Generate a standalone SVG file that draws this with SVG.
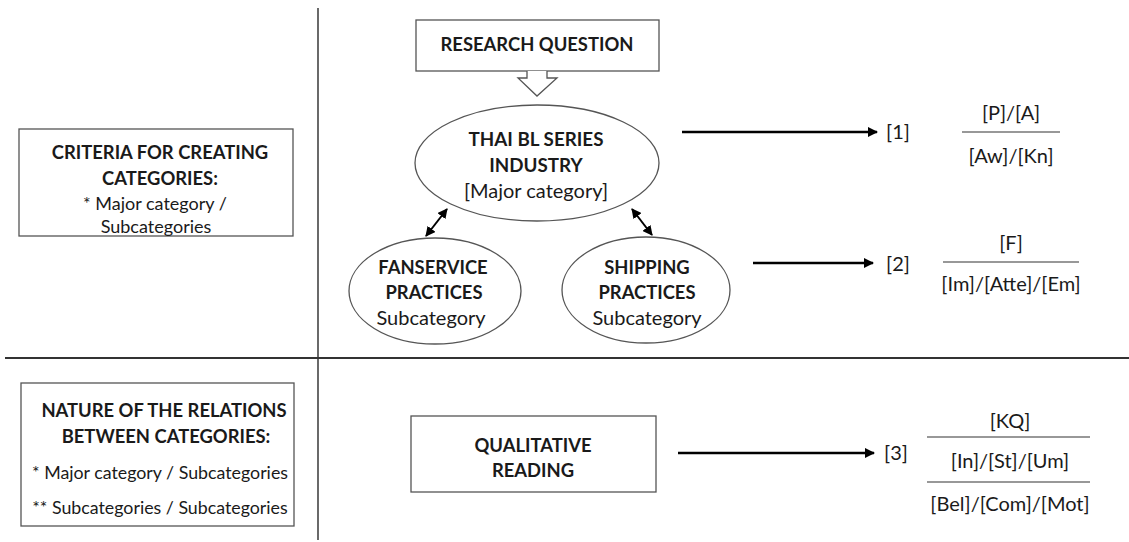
<svg xmlns="http://www.w3.org/2000/svg" width="1129" height="542" viewBox="0 0 1129 542">
<style>
  text { font-family: Lato, "Open Sans", "Liberation Sans", sans-serif; fill: #1a1a1a; text-anchor: middle; dominant-baseline: central; }
  .b { font-weight: bold; font-size: 18.4px; }
  .r { font-size: 20px; }
  .rs { font-size: 17.8px; }
  .box { fill: #fff; stroke: #555; stroke-width: 1.3; }
  .conn { stroke: #000; stroke-width: 2.6; fill: none; }
  .dbl { stroke: #000; stroke-width: 2; fill: none; }
  .frac { stroke: #333; stroke-width: 1.2; }
</style>
<defs>
  <marker id="ah" viewBox="0 0 10 10" refX="9" refY="5" markerWidth="4" markerHeight="4" orient="auto" markerUnits="strokeWidth">
    <path d="M0,0 L10,5 L0,10 z" fill="#000"/>
  </marker>
  <marker id="ah2" viewBox="0 0 10 10" refX="9" refY="5" markerWidth="5" markerHeight="5" orient="auto-start-reverse" markerUnits="strokeWidth">
    <path d="M0,0 L10,5 L0,10 z" fill="#000"/>
  </marker>
</defs>
<rect width="1129" height="542" fill="#fff"/>

<g id="dividers">
  <line x1="318" y1="8" x2="318" y2="540" stroke="#444" stroke-width="1.6"/>
  <line x1="5" y1="358" x2="1129" y2="358" stroke="#333" stroke-width="2"/>
</g>

<g id="criteria">
  <rect class="box" x="19" y="129" width="274" height="107"/>
  <text class="b" x="160" y="152">CRITERIA FOR CREATING</text>
  <text class="b" x="160" y="178">CATEGORIES:</text>
  <text class="rs" x="155" y="203" style="font-size:18px">* Major category /</text>
  <text class="rs" x="156" y="226" style="font-size:18px">Subcategories</text>
</g>

<g id="nature">
  <rect class="box" x="21" y="383" width="273" height="143"/>
  <text class="b" x="164" y="410">NATURE OF THE RELATIONS</text>
  <text class="b" x="166" y="436">BETWEEN CATEGORIES:</text>
  <text class="rs" x="160" y="472">* Major category / Subcategories</text>
  <text class="rs" x="160" y="507">** Subcategories / Subcategories</text>
</g>

<g id="research-question">
  <rect class="box" x="416" y="20" width="243" height="51"/>
  <text class="b" x="537" y="44">RESEARCH QUESTION</text>
  <path d="M527,71 L527,78 L518,78 L537,96 L557,78 L547,78 L547,71" fill="#fff" stroke="#555" stroke-width="1.3"/>
</g>

<g id="thai-bl">
  <ellipse class="box" cx="537" cy="163" rx="122" ry="58"/>
  <text class="b" x="536" y="138" style="font-size:18.8px">THAI BL SERIES</text>
  <text class="b" x="536" y="164" style="font-size:18.8px">INDUSTRY</text>
  <text class="r" x="536" y="190">[Major category]</text>
</g>

<g id="fanservice">
  <ellipse class="box" cx="435" cy="291" rx="86" ry="53"/>
  <text class="b" x="433" y="267">FANSERVICE</text>
  <text class="b" x="434" y="292">PRACTICES</text>
  <text class="r" x="431" y="317">Subcategory</text>
</g>

<g id="shipping">
  <ellipse class="box" cx="646" cy="290" rx="84" ry="53"/>
  <text class="b" x="647" y="267">SHIPPING</text>
  <text class="b" x="647" y="292">PRACTICES</text>
  <text class="r" x="647" y="317">Subcategory</text>
</g>

<g id="qualitative">
  <rect class="box" x="411" y="416" width="245" height="76"/>
  <text class="b" x="533" y="445">QUALITATIVE</text>
  <text class="b" x="533" y="470">READING</text>
</g>

<g id="result-1">
  <text class="r" x="898" y="131">[1]</text>
  <text class="r" x="1011" y="112">[P]/[A]</text>
  <line class="frac" x1="962" y1="132" x2="1060" y2="132"/>
  <text class="r" x="1011" y="155">[Aw]/[Kn]</text>
</g>

<g id="result-2">
  <text class="r" x="898" y="263">[2]</text>
  <text class="r" x="1011" y="242">[F]</text>
  <line class="frac" x1="943" y1="262" x2="1079" y2="262"/>
  <text class="r" x="1011" y="283">[Im]/[Atte]/[Em]</text>
</g>

<g id="result-3">
  <text class="r" x="896" y="452">[3]</text>
  <text class="r" x="1010" y="420">[KQ]</text>
  <line class="frac" x1="927" y1="437" x2="1090" y2="437"/>
  <text class="r" x="1010" y="460">[In]/[St]/[Um]</text>
  <line class="frac" x1="927" y1="482" x2="1090" y2="482"/>
  <text class="r" x="1010" y="503">[Bel]/[Com]/[Mot]</text>
</g>

<g id="connectors">
  <line class="conn" x1="682" y1="132" x2="877" y2="132" marker-end="url(#ah)"/>
  <line class="conn" x1="753" y1="263" x2="873" y2="263" marker-end="url(#ah)"/>
  <line class="conn" x1="678" y1="453" x2="874" y2="453" marker-end="url(#ah)"/>
  <line class="dbl" x1="447" y1="209" x2="426" y2="236" marker-start="url(#ah2)" marker-end="url(#ah2)"/>
  <line class="dbl" x1="632" y1="209" x2="652" y2="235" marker-start="url(#ah2)" marker-end="url(#ah2)"/>
</g>
</svg>
